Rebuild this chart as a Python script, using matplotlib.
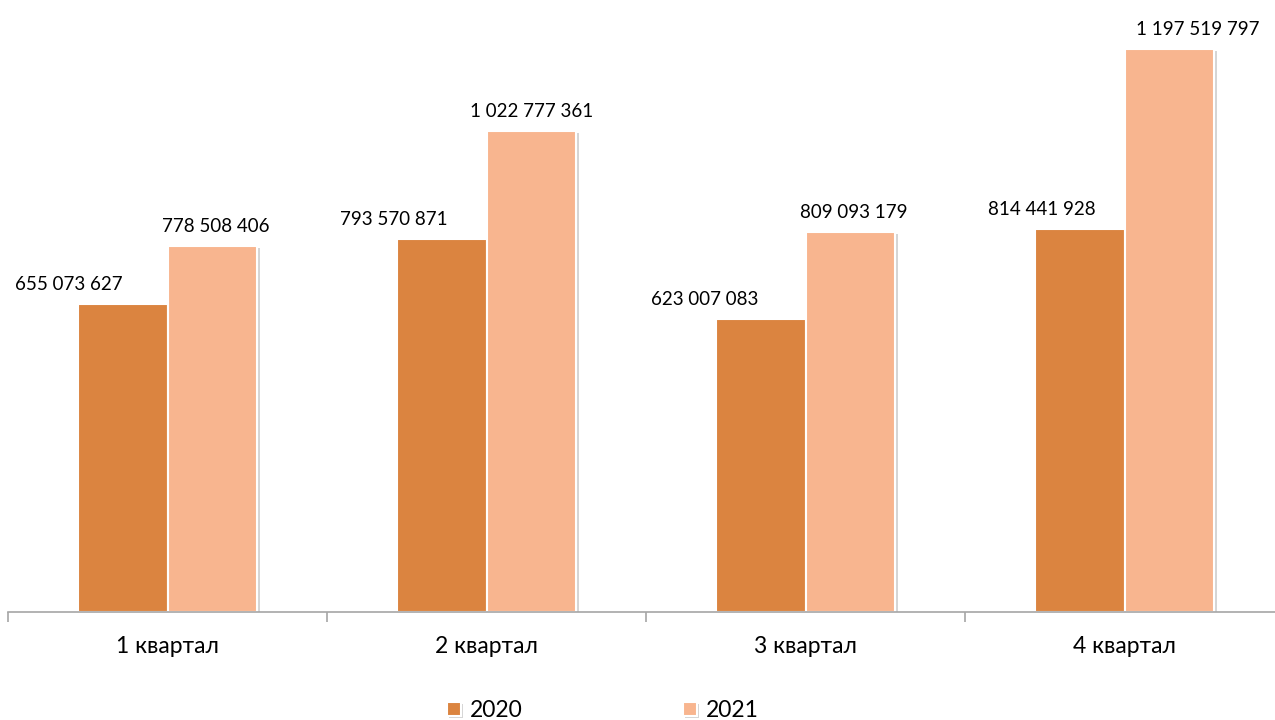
import numpy as np
import matplotlib
matplotlib.use("Agg")
import matplotlib.pyplot as plt
import matplotlib.patheffects as pe

plt.rcParams["font.family"] = ["Lato", "DejaVu Sans"]

# data
quarters = ["1 квартал", "2 квартал", "3 квартал", "4 квартал"]
years = ["2020", "2021"]
v2020 = [655073627, 793570871, 623007083, 814441928]
v2021 = [778508406, 1022777361, 809093179, 1197519797]

colors = ["#DB8440", "#F8B58F"]
# label nudges (points) to mimic the original placement
dx2020 = [-39, -34, -40, -27]
dx2021 = [2, 0, 2, 20]

fig = plt.figure(figsize=(12.75, 7.2), dpi=100)
ax = fig.add_axes([8 / 1275, 108 / 720, 1276 / 1275, 612 / 720])

x = np.arange(len(quarters))
w = 0.282
shadow = [pe.SimplePatchShadow(offset=(1.5, -1.5), shadow_rgbFace="#888888", alpha=0.35), pe.Normal()]

b1 = ax.bar(x - w / 2, v2020, w, color=colors[0], edgecolor="white", linewidth=1.5,
            label=years[0], path_effects=shadow)
b2 = ax.bar(x + w / 2, v2021, w, color=colors[1], edgecolor="white", linewidth=1.5,
            label=years[1], path_effects=shadow)

def fmt(v):
    return "{:,}".format(v).replace(",", " ")

for bars, vals, dxs in [(b1, v2020, dx2020), (b2, v2021, dx2021)]:
    for r, v, d in zip(bars, vals, dxs):
        ax.annotate(fmt(v), (r.get_x() + r.get_width() / 2, v), xytext=(d, 8),
                    textcoords="offset points", ha="center", va="bottom",
                    fontsize=13.5, color="#000000")

ax.set_xlim(-0.5, len(quarters) - 0.5)
ax.set_ylim(0, 1.302e9)
ax.set_yticks([])
for s in ["left", "right", "top"]:
    ax.spines[s].set_visible(False)
ax.spines["bottom"].set_color("#A6A6A6")
ax.spines["bottom"].set_linewidth(1.2)

ax.set_xticks(np.arange(len(quarters) + 1) - 0.5)
ax.set_xticklabels([])
ax.set_xticks(x, minor=True)
ax.set_xticklabels(quarters, minor=True, fontsize=16.5)
ax.tick_params(axis="x", which="major", length=7, width=1.2, color="#A6A6A6", direction="out")
ax.tick_params(axis="x", which="minor", length=0, pad=17)

fig.legend(handles=[b1, b2], labels=years, loc="lower center", bbox_to_anchor=(0.473, -0.03),
           ncol=2, frameon=False, fontsize=16.5, handlelength=0.6, handleheight=0.6,
           handletextpad=0.4, columnspacing=7.0)

plt.savefig("out.png", dpi=100)
